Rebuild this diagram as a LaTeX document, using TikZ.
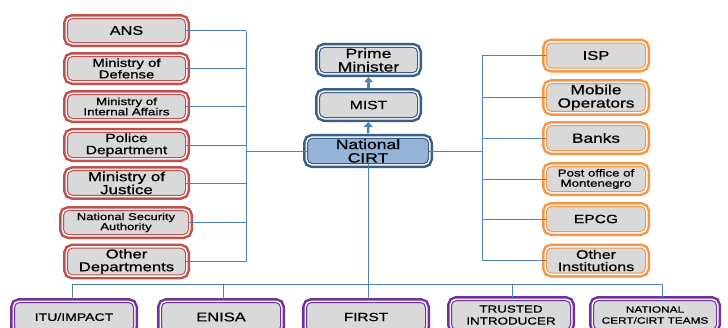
\documentclass[tikz,border=0pt]{standalone}
\usepackage{fontspec}
\setmainfont{Liberation Sans}[FakeStretch=1.3, FakeBold=0.8]
\usepackage{tikz}
\usetikzlibrary{arrows.meta,positioning,calc}

\definecolor{redline}{HTML}{C0504D}
\definecolor{orangeline}{HTML}{F79646}
\definecolor{blueline}{HTML}{4F81BD}
\definecolor{darkblue}{HTML}{385D8A}
\definecolor{cirtfill}{HTML}{95B3D7}
\definecolor{purpleline}{HTML}{7030A0}
\definecolor{boxfill}{HTML}{D9D9D9}

\newcommand{\fs}[1]{\fontsize{#1}{#1}\selectfont}

\begin{document}
\begin{tikzpicture}[x=1pt, y=-1pt,
      org/.style={rounded corners=5pt, fill=boxfill, draw=#1, line width=1pt, align=center, inner sep=1pt,
        preaction={draw=#1, line width=9pt},
        preaction={draw=white, line width=4pt}},
      agency/.style={org=redline, minimum width=118pt, minimum height=24pt},
      company/.style={org=orangeline, minimum width=99pt, minimum height=25pt},
      gov/.style={org=darkblue, minimum width=98pt, minimum height=25pt},
      partner/.style={org=purpleline, minimum width=119pt, minimum height=29pt},
      link/.style={draw=blueline, line width=1pt},
      up/.style={-{Triangle[length=5pt,width=9pt]}, draw=blueline, line width=2.5pt, shorten <=4.5pt, shorten >=4pt}
    ]
    \useasboundingbox (0,0) rectangle (728,327);
    \clip (0,0) rectangle (728,327);

    % national level
    \node[gov, font=\fs{13.5}] (pm) at (368.5,60) {Prime\\Minister};
    \node[gov, font=\fs{12}] (mist) at (368.5,105) {MIST};
    \node[gov, fill=cirtfill, minimum width=121pt, minimum height=23pt, font=\fs{13.5}] (cirt) at (368,151) {National\\CIRT};

    % state bodies
    \node[agency, font=\fs{12.5}] (ans) at (126.5,30.5) {ANS};
    \node[agency, font=\fs{11.5}] (mod) at (126.5,68.5) {Ministry of\\Defense};
    \node[agency, font=\fs{10.3}] (mia) at (126.5,106.5) {Ministry of\\Internal Affairs};
    \node[agency, font=\fs{12}] (police) at (126.5,145) {Police\\Department};
    \node[agency, font=\fs{13}] (justice) at (126.5,183) {Ministry of\\Justice};
    \node[agency, minimum width=125pt, font=\fs{10}] (nsa) at (126,222.5) {National Security\\Authority};
    \node[agency, font=\fs{12.8}] (otherdep) at (126.5,261.5) {Other\\Departments};

    % operators and institutions
    \node[company, font=\fs{12.7}] (isp) at (596,55.5) {ISP};
    \node[company, font=\fs{13.3}] (mobile) at (596,97.5) {Mobile\\Operators};
    \node[company, font=\fs{13.3}] (banks) at (596,138) {Banks};
    \node[company, font=\fs{10.2}] (post) at (596,179) {Post office of\\Montenegro};
    \node[company, font=\fs{12}] (epcg) at (596,219) {EPCG};
    \node[company, font=\fs{12.3}] (otherinst) at (596,260.5) {Other\\Institutions};

    % international partners
    \node[partner, font=\fs{10.8}] (itu) at (74,317) {ITU/IMPACT};
    \node[partner, font=\fs{12.7}] (enisa) at (221,317) {ENISA};
    \node[partner, font=\fs{11.8}] (first) at (366,317) {FIRST};
    \node[partner, font=\fontsize{10.3}{12}\selectfont] (trusted) at (511,315) {TRUSTED\\INTRODUCER};
    \node[partner, minimum width=123pt, font=\fontsize{9.1}{11}\selectfont] (natteams) at (655,315) {NATIONAL\\CERT/CIRT TEAMS};

    % chain of command
    \draw[up] (cirt.north) -- (mist.south);
    \draw[up] (mist.north) -- (pm.south);

    % left bus
    \coordinate (lbus) at (246,152);
    \foreach \n in {ans,mod,mia,police,justice,nsa,otherdep}
      \draw[link] (\n.east) -- (\n.east -| lbus);
    \draw[link] (ans.east -| lbus) -- (otherdep.east -| lbus);
    \draw[link] (cirt.west) -- (cirt.west -| lbus);

    % right bus
    \coordinate (rbus) at (482,152);
    \foreach \n in {isp,mobile,banks,post,epcg,otherinst}
      \draw[link] (\n.west) -- (\n.west -| rbus);
    \draw[link] (isp.west -| rbus) -- (otherinst.west -| rbus);
    \draw[link] (cirt.east) -- (cirt.east -| rbus);

    % bottom bus
    \coordinate (bbus) at (368,284);
    \draw[link] (cirt.south) -- (cirt.south |- bbus);
    \foreach \n/\x in {itu/72,enisa/223,first/368,trusted/512,natteams/662}
      \draw[link] (\x,284) -- (\x,299);
    \draw[link] (72,284) -- (662,284);
  \end{tikzpicture}
\end{document}
